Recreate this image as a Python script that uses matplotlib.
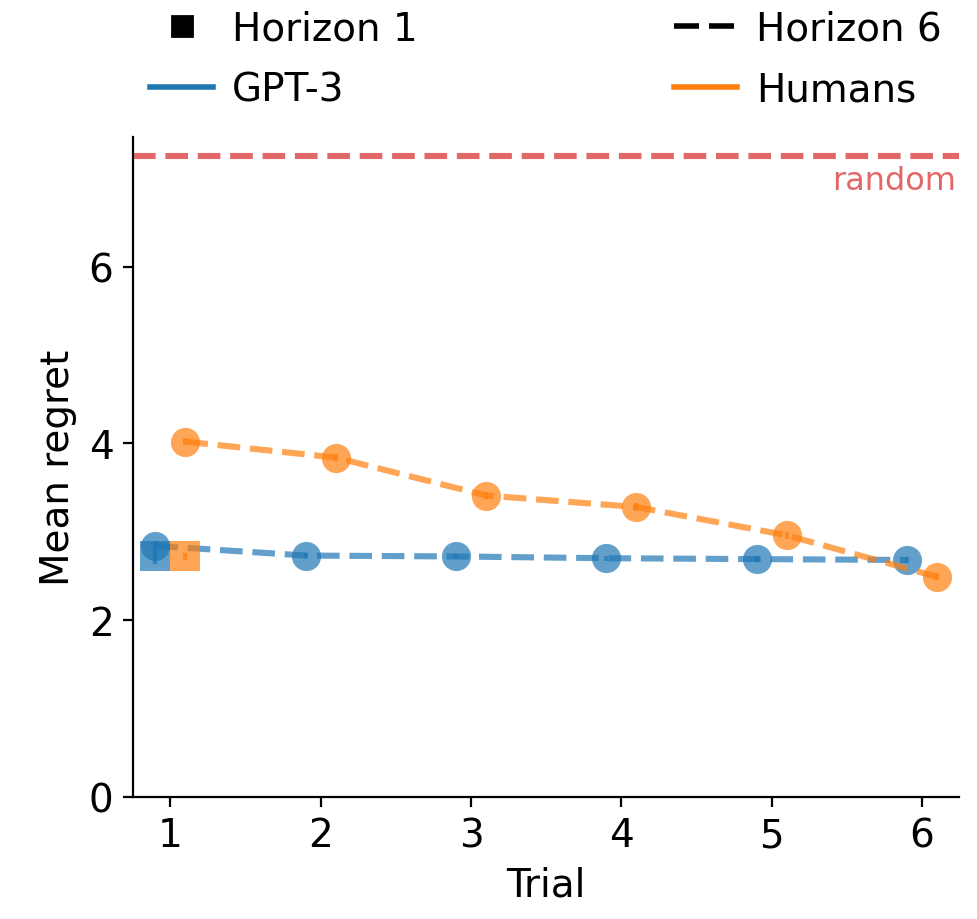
import numpy as np
import matplotlib.pyplot as plt
from matplotlib.lines import Line2D

trials = np.array([1, 2, 3, 4, 5, 6])
gpt3_h6 = [2.84, 2.73, 2.72, 2.70, 2.69, 2.68]
gpt3_h6_err = [0.06, 0.03, 0.03, 0.03, 0.03, 0.03]
humans_h6 = [4.02, 3.84, 3.41, 3.28, 2.96, 2.49]
humans_h6_err = [0.04, 0.04, 0.04, 0.04, 0.04, 0.04]
gpt3_h1 = 2.72
gpt3_h1_err = 0.08
humans_h1 = 2.72
humans_h1_err = 0.04
random_regret = 7.25

fig, ax = plt.subplots(figsize=(4.885, 4.6), dpi=200)

ms = 10.5
ax.errorbar(trials - 0.1, gpt3_h6, yerr=gpt3_h6_err, color='C0', alpha=0.7,
	ls='--', lw=2.2, marker='o', markersize=ms, markeredgewidth=0, elinewidth=1.5)
ax.errorbar(trials + 0.1, humans_h6, yerr=humans_h6_err, color='C1', alpha=0.7,
	ls='--', lw=2.2, marker='o', markersize=ms, markeredgewidth=0, elinewidth=1.5)
ax.errorbar([0.9], [gpt3_h1], yerr=[gpt3_h1_err], color='C0', alpha=0.7,
	marker='s', markersize=ms, markeredgewidth=0, elinewidth=1.5)
ax.errorbar([1.1], [humans_h1], yerr=[humans_h1_err], color='C1', alpha=0.7,
	marker='s', markersize=ms, markeredgewidth=0, elinewidth=1.5)

ax.axhline(random_regret, color='C3', alpha=0.7, ls='--', lw=2.2)
ax.text(6.23, random_regret - 0.1, 'random', color='C3', alpha=0.7,
	ha='right', va='top', fontsize=11.5)

ax.set_xlim(0.75, 6.25)
ax.set_ylim(0, 7.47)
ax.set_xticks(trials)
ax.set_yticks([0, 2, 4, 6])
ax.set_xlabel('Trial', fontsize=14)
ax.set_ylabel('Mean regret', fontsize=14)
ax.tick_params(labelsize=14)
ax.spines['top'].set_visible(False)
ax.spines['right'].set_visible(False)

handles = [
	Line2D([], [], color='black', marker='s', ls='none', markersize=7),
	Line2D([], [], color='C0', lw=2),
	Line2D([], [], color='black', ls=(0, (4.5, 1.8)), lw=2),
	Line2D([], [], color='C1', lw=2),
]
labels = ['Horizon 1', 'GPT-3', 'Horizon 6', 'Humans']
ax.legend(handles, labels, ncol=2, frameon=False, fontsize=14,
	loc='lower center', bbox_to_anchor=(0.5, 0.99), columnspacing=6.6,
	handlelength=1.6, handletextpad=0.5, labelspacing=0.6)

fig.subplots_adjust(left=0.136, right=0.982, bottom=0.133, top=0.85)
fig.savefig('out.png')
